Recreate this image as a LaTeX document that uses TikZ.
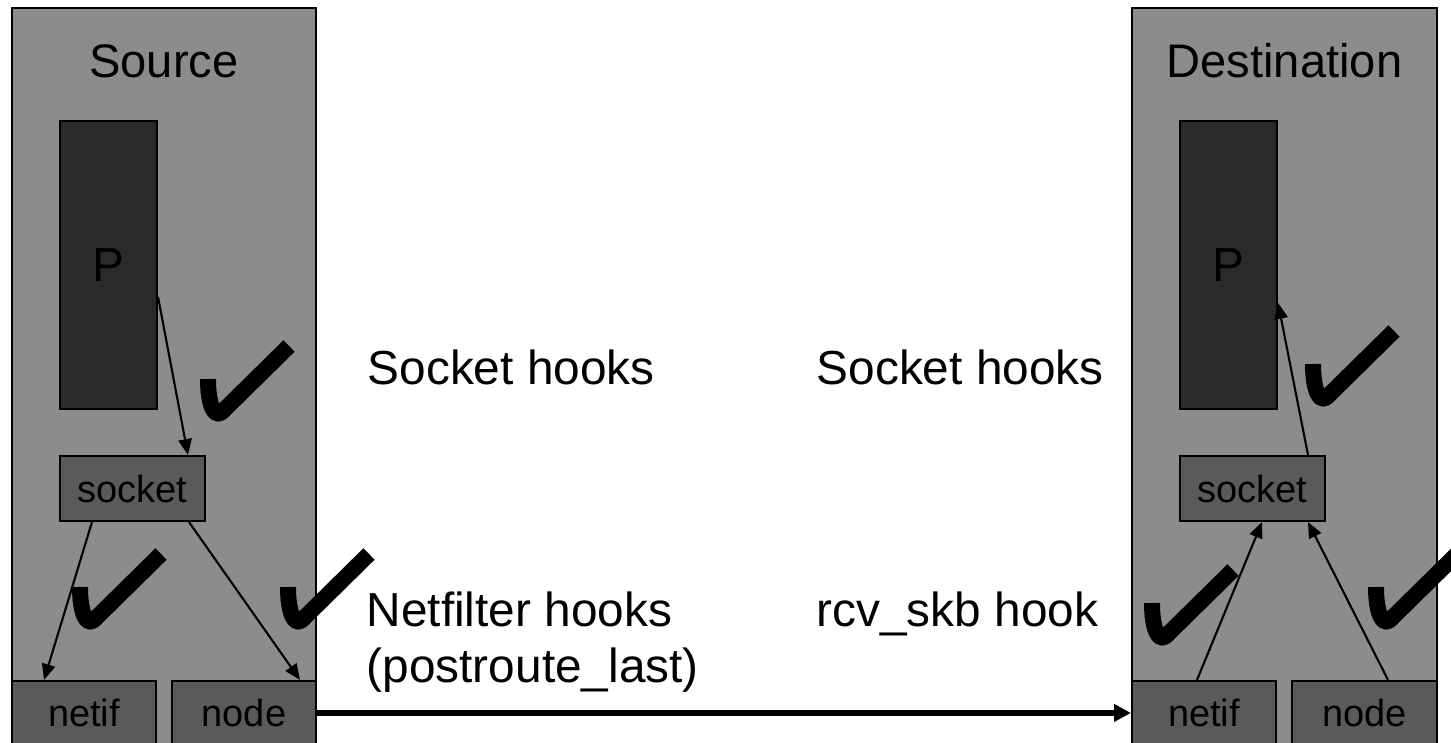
\documentclass[tikz,border=0pt]{standalone}
\usepackage{fontspec}
\setmainfont{Liberation Sans}
\usetikzlibrary{arrows.meta}
\definecolor{hostgray}{RGB}{140,140,140}
\definecolor{procgray}{RGB}{42,42,42}
\definecolor{boxgray}{RGB}{90,90,90}
\tikzstyle{host} = [draw=black, fill=hostgray, line width=0.6pt, minimum width=3.04cm, minimum height=7.55cm, inner sep=0pt]
\tikzstyle{proc} = [draw=black, fill=procgray, line width=0.6pt, minimum width=0.97cm, minimum height=2.88cm, inner sep=0pt, font=\fontsize{13.6}{16}\selectfont]
\tikzstyle{sock} = [draw=black, fill=boxgray, line width=0.6pt, minimum width=1.45cm, minimum height=0.65cm, inner sep=0pt, font=\fontsize{10.8}{13}\selectfont]
\tikzstyle{dev} = [draw=black, fill=boxgray, line width=0.6pt, minimum width=1.44cm, minimum height=0.64cm, inner sep=0pt, font=\fontsize{10.8}{13}\selectfont]
\tikzstyle{title} = [anchor=base, inner sep=0pt, font=\fontsize{13.4}{16}\selectfont]
\tikzstyle{hooktext} = [anchor=base west, inner sep=0pt, font=\fontsize{13.6}{16}\selectfont]
\tikzstyle{arrow} = [line width=0.6pt, -{Triangle[length=4.5pt,width=3.8pt]}]
\tikzstyle{wire} = [line width=1.6pt, -{Triangle[length=4.8pt,width=4.8pt]}]
% hooked tick, origin at its top left corner
\tikzset{checkmark/.pic={
  \draw[line width=0.16cm, line cap=butt, line join=round] (0.10,-0.39) .. controls (0.10,-0.66) and (0.17,-0.787) .. (0.24,-0.72) -- (0.91,-0.06);
}}

\begin{document}
\begin{tikzpicture}
\useasboundingbox (0,0) rectangle (14.51,7.43);
\clip (0,0) rectangle (14.51,7.43);
% sending host
\node (srcHost) at (1.64,3.575) [host] {};
\node (srcTitle) at (1.64,6.65) [title] {Source};
\node (srcP) at (1.085,4.78) [proc] {P};
\node (srcSock) at (1.325,2.545) [sock] {socket};
\node (srcNetif) at (0.84,0.30) [dev] {netif};
\node (srcNode) at (2.44,0.30) [dev] {node};
\pic at (1.98,4.03) {checkmark};
\pic at (0.70,1.95) {checkmark};
\pic at (2.78,1.95) {checkmark};
\draw[arrow] ([yshift=-0.32cm]srcP.east) -- ([xshift=0.555cm]srcSock.north);
\draw[arrow] ([xshift=-0.405cm]srcSock.south) -- ([xshift=-0.40cm]srcNetif.north);
\draw[arrow] ([xshift=0.565cm]srcSock.south) -- ([xshift=0.56cm]srcNode.north);
% hook labels
\node (sockHookSrc) at (3.67,3.58) [hooktext] {Socket hooks};
\node (sockHookDst) at (8.16,3.58) [hooktext] {Socket hooks};
\node (nfHook) at (3.66,1.16) [hooktext] {Netfilter hooks};
\node (nfHookWhere) at (3.66,0.60) [hooktext] {(postroute\_last)};
\node (rcvHook) at (8.16,1.16) [hooktext] {rcv\_skb hook};
    \begin{scope}[xshift=11.2cm]
% receiving host
\node (dstHost) at (1.645,3.575) [host, minimum width=3.05cm] {};
\node (dstTitle) at (1.645,6.65) [title] {Destination};
\node (dstP) at (1.085,4.78) [proc] {P};
\node (dstSock) at (1.325,2.545) [sock] {socket};
\node (dstNetif) at (0.84,0.30) [dev] {netif};
\node (dstNode) at (2.445,0.30) [dev, minimum width=1.45cm] {node};
\pic at (1.83,4.18) {checkmark};
\pic at (0.22,1.79) {checkmark};
\pic at (2.46,1.95) {checkmark};
\draw[arrow] ([xshift=0.555cm]dstSock.north) -- ([yshift=-0.38cm]dstP.east);
\draw[arrow] ([xshift=-0.07cm]dstNetif.north) -- ([xshift=0.095cm]dstSock.south);
\draw[arrow] ([xshift=0.235cm]dstNode.north) -- ([xshift=0.555cm]dstSock.south);
	\end{scope}
% packet on the wire
\draw[wire] (srcNode.east) -- (dstNetif.west);
\end{tikzpicture}
\end{document}
